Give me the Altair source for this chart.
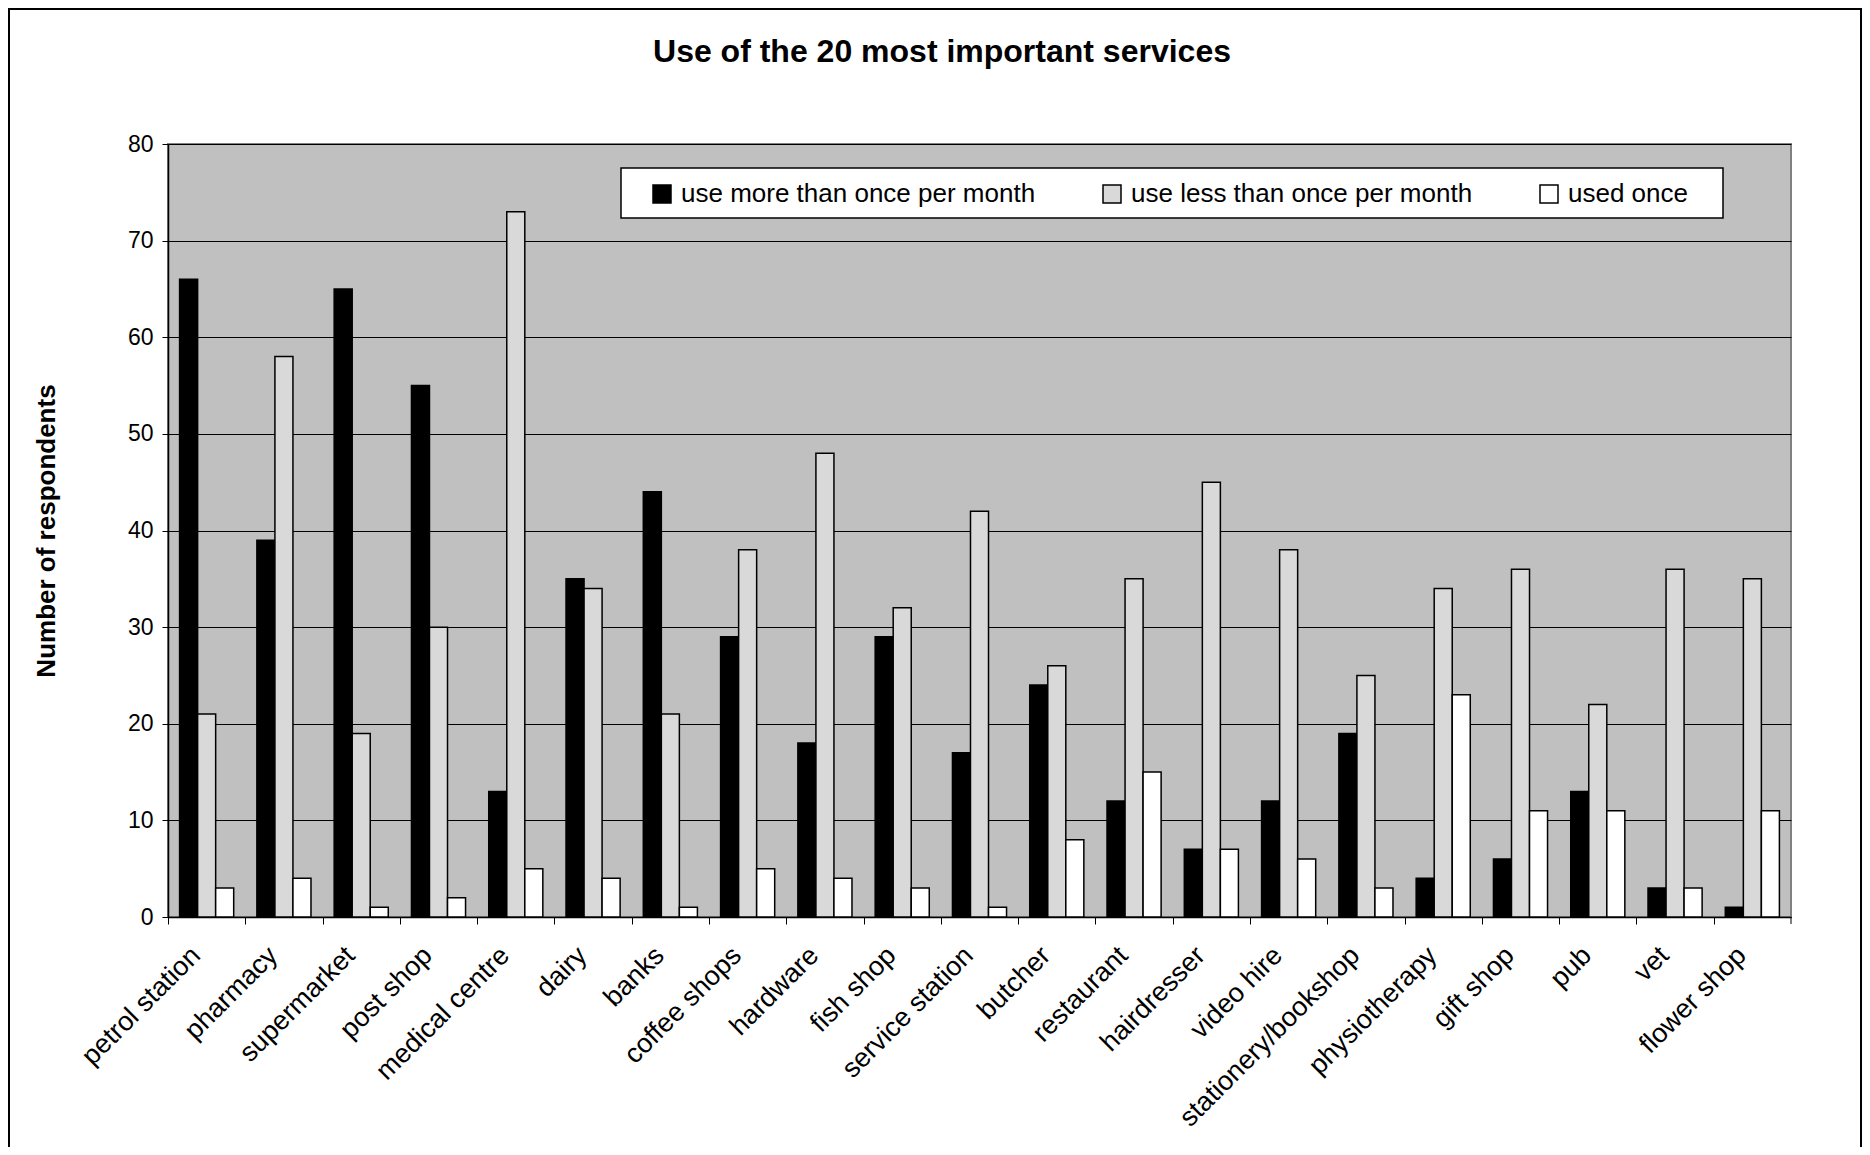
import altair as alt
import pandas as pd

services = ["petrol station", "pharmacy", "supermarket", "post shop", "medical centre",
            "dairy", "banks", "coffee shops", "hardware", "fish shop", "service station",
            "butcher", "restaurant", "hairdresser", "video hire", "stationery/bookshop",
            "physiotherapy", "gift shop", "pub", "vet", "flower shop"]
more_than_once = [66, 39, 65, 55, 13, 35, 44, 29, 18, 29, 17, 24, 12, 7, 12, 19, 4, 6, 13, 3, 1]
less_than_once = [21, 58, 19, 30, 73, 34, 21, 38, 48, 32, 42, 26, 35, 45, 38, 25, 34, 36, 22, 36, 35]
used_once = [3, 4, 1, 2, 5, 4, 1, 5, 4, 3, 1, 8, 15, 7, 6, 3, 23, 11, 11, 3, 11]
series_names = ["use more than once per month", "use less than once per month", "used once"]
series_colors = ["#000000", "#d9d9d9", "#ffffff"]
y_ticks = [0, 10, 20, 30, 40, 50, 60, 70, 80]
chart_title = "Use of the 20 most important services"

rows = []
for i, s in enumerate(services):
    for name, vals in zip(series_names, [more_than_once, less_than_once, used_once]):
        rows.append({"service": s, "series": name, "value": vals[i]})
df = pd.DataFrame(rows)

FONT = "Liberation Sans, Arial, sans-serif"
SVG_W, SVG_H = 1854, 1139
W, H = 1623, 773
PL, PT = 160, 136
PR = SVG_W - PL - W
PB = SVG_H - PT - H
STEP = W / len(services)

dummy = pd.DataFrame({"d": [0]})

# outer frame of the figure (decoration)
frame = alt.Chart(dummy).mark_rect(filled=False, stroke="black", strokeWidth=2).encode(
    x=alt.value(1 - PL), x2=alt.value(SVG_W - 1 - PL),
    y=alt.value(1 - PT), y2=alt.value(SVG_H + 20 - PT),
)

# legend frame (decoration)
legend_box = alt.Chart(dummy).mark_rect(fill="white", stroke="black", strokeWidth=1.5).encode(
    x=alt.value(621 - 8 - PL), x2=alt.value(1723 - 8 - PL),
    y=alt.value(168 - 8 - PT), y2=alt.value(218 - 8 - PT),
)

title_text = alt.Chart(dummy).mark_text(
    text=chart_title, fontSize=32, fontWeight="bold", color="black",
    align="center", baseline="alphabetic", font=FONT,
).encode(x=alt.value(942 - 8 - PL), y=alt.value(62 - 8 - PT))

bars = alt.Chart(df).mark_bar(stroke="black", strokeWidth=1.5).encode(
    x=alt.X("service:N", sort=services, title=None,
            scale=alt.Scale(paddingInner=0.3, paddingOuter=0.15),
            axis=alt.Axis(labelAngle=-45, labelAlign="right", labelBaseline="middle",
                          labelFontSize=27, labelColor="black", labelPadding=27,
                          tickOffset=-STEP / 2, labelOffset=STEP / 2 - 11,
                          tickSize=7, tickColor="black", domainColor="black",
                          domainWidth=1.5, labelLimit=400)),
    xOffset=alt.XOffset("series:N", sort=series_names,
                        scale=alt.Scale(paddingInner=0, paddingOuter=0)),
    y=alt.Y("value:Q", title="Number of respondents",
            scale=alt.Scale(domain=[0, 80]),
            axis=alt.Axis(values=y_ticks, grid=True, gridColor="black", gridWidth=1,
                          labelFontSize=23, labelColor="black", labelPadding=9,
                          tickSize=6, tickColor="black", domainColor="black",
                          domainWidth=1.5, titleFontSize=26, titleFontWeight="bold",
                          titleColor="black", titlePadding=68)),
    color=alt.Color("series:N", sort=series_names,
                    scale=alt.Scale(domain=series_names, range=series_colors),
                    legend=alt.Legend(orient="none", legendX=649 - 8 - PL, legendY=37,
                                      direction="horizontal", title=None,
                                      symbolType="square", symbolSize=324,
                                      symbolStrokeColor="black", symbolStrokeWidth=1.5,
                                      labelFontSize=26, labelColor="black", labelOffset=6,
                                      columnPadding=63, padding=0, labelLimit=500)),
)

edge_tick = alt.Chart(dummy).mark_rule(color="black", strokeWidth=1).encode(
    x=alt.value(W), y=alt.value(H), y2=alt.value(H + 7)
)

chart = alt.layer(frame, legend_box, bars, edge_tick, title_text).properties(
    width=W, height=H,
    autosize=alt.AutoSizeParams(type="none"),
    padding={"left": PL, "top": PT, "right": PR, "bottom": PB},
).configure(font=FONT, background="white").configure_view(
    fill="#c0c0c0", stroke="#808080", strokeWidth=2
)

chart.save("out.html", embed_options={"renderer": "svg", "actions": False})
